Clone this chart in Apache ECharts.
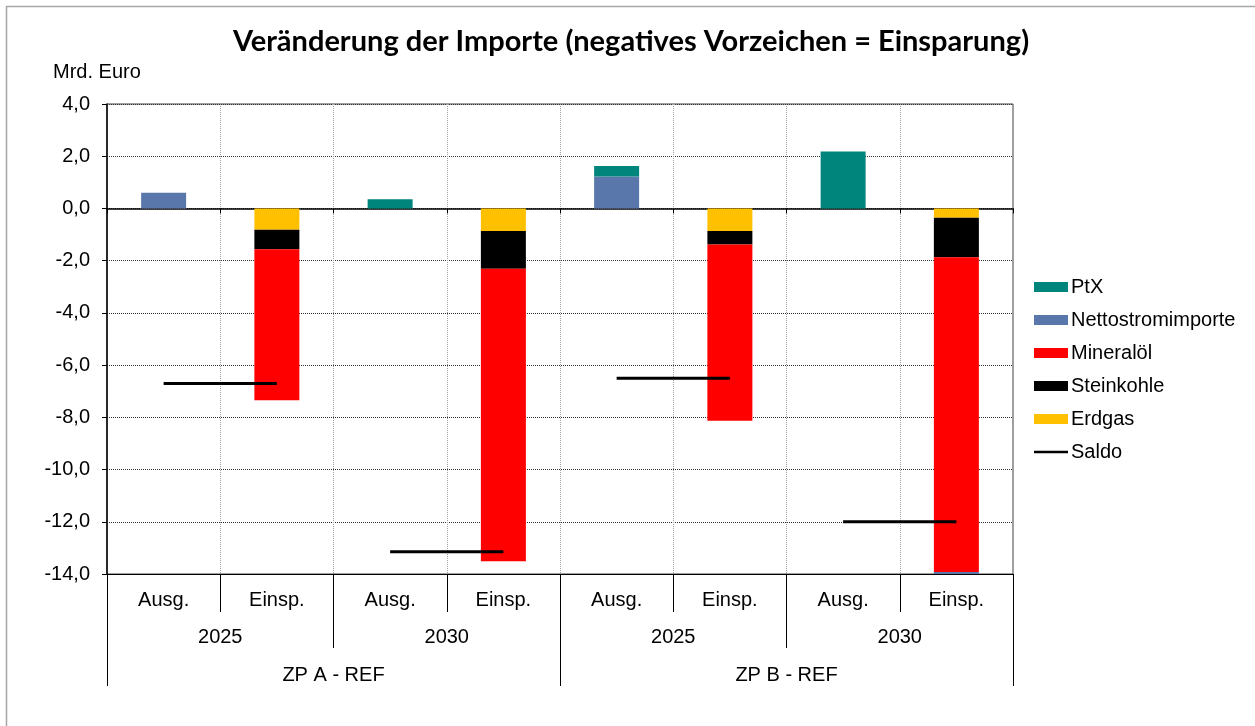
<!DOCTYPE html>
<html>
<head>
<meta charset="utf-8">
<script src="https://cdn.jsdelivr.net/npm/echarts@6/dist/echarts.min.js"></script>
<style>
  html, body { margin: 0; padding: 0; background: #fff; }
  #chart { width: 1255px; height: 726px; }
</style>
</head>
<body>
<div id="chart"></div>
<script>
// Kategorien (drei Ebenen)
var cats = ['Ausg.', 'Einsp.', 'Ausg.', 'Einsp.', 'Ausg.', 'Einsp.', 'Ausg.', 'Einsp.'];
var years = ['2025', '2030', '2025', '2030'];
var groups = ['ZP A - REF', 'ZP B - REF'];

// Werte in Mrd. Euro
var erdgas     = [0, -0.82, 0, -0.86, 0, -0.86, 0, -0.36];
var steinkohle = [0, -0.74, 0, -1.45, 0, -0.52, 0, -1.51];
var mineraloel = [0, -5.79, 0, -11.2, 0, -6.75, 0, -12.05];
var netto      = [0.6, 0, 0, 0, 1.22, 0, 0, -0.2];
var ptx        = [0, 0, 0.35, 0, 0.41, 0, 2.18, 0];
// Saldo je Paar (Ausg. + Einsp.)
var saldo = [-6.7, -13.15, -6.5, -12.0];

var chart = echarts.init(document.getElementById('chart'));

var font = 'Liberation Sans, Arial, sans-serif';
var fs = 20;

function barSeries(name, data, color) {
    return {
        name: name,
        type: 'bar',
        stack: 'imp',
        xAxisIndex: 0,
        barWidth: 45,
        itemStyle: { color: color },
        data: data
    };
}

var series = [
    barSeries('Erdgas', erdgas, '#FFC000'),
    barSeries('Steinkohle', steinkohle, '#000000'),
    barSeries('Mineralöl', mineraloel, '#FF0000'),
    barSeries('Nettostromimporte', netto, '#5A77AB'),
    barSeries('PtX', ptx, '#00857D')
];

// Saldo: eine Linie je Paar
for (var i = 0; i < saldo.length; i++) {
    var d = [];
    for (var j = 0; j < cats.length; j++) d.push(null);
    d[i * 2] = saldo[i];
    d[i * 2 + 1] = saldo[i];
    series.push({
        name: 'Saldo',
        type: 'line',
        xAxisIndex: 0,
        symbol: 'none',
        lineStyle: { color: '#000', width: 3 },
        itemStyle: { color: '#000' },
        z: 5,
        data: d
    });
}

var option = {
    animation: false,
    backgroundColor: '#fff',
    title: {
        text: 'Veränderung der Importe (negatives Vorzeichen = Einsparung)',
        left: 626,
        textAlign: 'center',
        top: 22,
        textStyle: { fontFamily: 'Lato', fontWeight: 'bold', fontSize: 29, color: '#000' }
    },
    graphic: [
        {
            type: 'rect',
            shape: { x: 6.5, y: 6.5, width: 1400, height: 900 },
            style: { fill: null, stroke: '#A6A6A6', lineWidth: 1.5 },
            silent: true
        },
        {
            type: 'text',
            left: 53,
            top: 62,
            style: { text: 'Mrd. Euro', font: '20px Liberation Sans', fill: '#000' }
        }
    ],
    legend: {
        orient: 'vertical',
        left: 1034,
        top: 277,
        padding: 0,
        itemWidth: 34,
        itemHeight: 10,
        itemGap: 13,
        textStyle: { fontFamily: font, fontSize: fs, color: '#000', padding: [0, 0, 0, -2] },
        data: [
            { name: 'PtX', icon: 'rect' },
            { name: 'Nettostromimporte', icon: 'rect' },
            { name: 'Mineralöl', icon: 'rect' },
            { name: 'Steinkohle', icon: 'rect' },
            { name: 'Erdgas', icon: 'rect' },
            { name: 'Saldo', icon: 'path://M0,4 L34,4 L34,6.5 L0,6.5 Z' }
        ]
    },
    grid: {
        left: 107,
        right: 242,
        top: 104,
        bottom: 152,
        show: true,
        borderColor: '#404040',
        borderWidth: 1
    },
    xAxis: [
        {
            type: 'category',
            data: cats,
            position: 'bottom',
            axisLine: { onZero: false, lineStyle: { color: '#000' } },
            axisTick: { show: true, length: 38, interval: 0, lineStyle: { color: '#000' } },
            axisLabel: { interval: 0, margin: 16, fontFamily: font, fontSize: fs, color: '#000' },
            splitLine: { show: true, interval: 0, lineStyle: { color: '#A0A0A0', type: 'dotted' } }
        },
        {
            type: 'category',
            data: years,
            position: 'bottom',
            axisLine: { onZero: false, show: false },
            axisTick: { show: true, length: 74, interval: 0, lineStyle: { color: '#000' } },
            axisLabel: { interval: 0, margin: 53, fontFamily: font, fontSize: fs, color: '#000' }
        },
        {
            type: 'category',
            data: groups,
            position: 'bottom',
            axisLine: { onZero: false, show: false },
            axisTick: { show: true, length: 112, interval: 0, lineStyle: { color: '#000' } },
            axisLabel: { interval: 0, margin: 91, fontFamily: font, fontSize: fs, color: '#000' }
        },
        {
            type: 'category',
            data: cats,
            position: 'bottom',
            axisLine: { onZero: true, lineStyle: { color: '#000', width: 1.5 } },
            axisTick: { show: true, length: 5, interval: 0, lineStyle: { color: '#000' } },
            axisLabel: { show: false }
        }
    ],
    yAxis: {
        type: 'value',
        min: -14,
        max: 4,
        interval: 2,
        axisLine: { show: true, lineStyle: { color: '#000', width: 1.5 } },
        axisTick: { show: true, length: 5, lineStyle: { color: '#000' } },
        axisLabel: {
            margin: 17,
            fontFamily: font,
            fontSize: fs,
            color: '#000',
            formatter: function (v) { return v.toFixed(1).replace('.', ','); }
        },
        splitLine: { show: true, lineStyle: { color: '#333', type: 'dotted' } }
    },
    series: series
};

chart.setOption(option);
</script>
</body>
</html>
